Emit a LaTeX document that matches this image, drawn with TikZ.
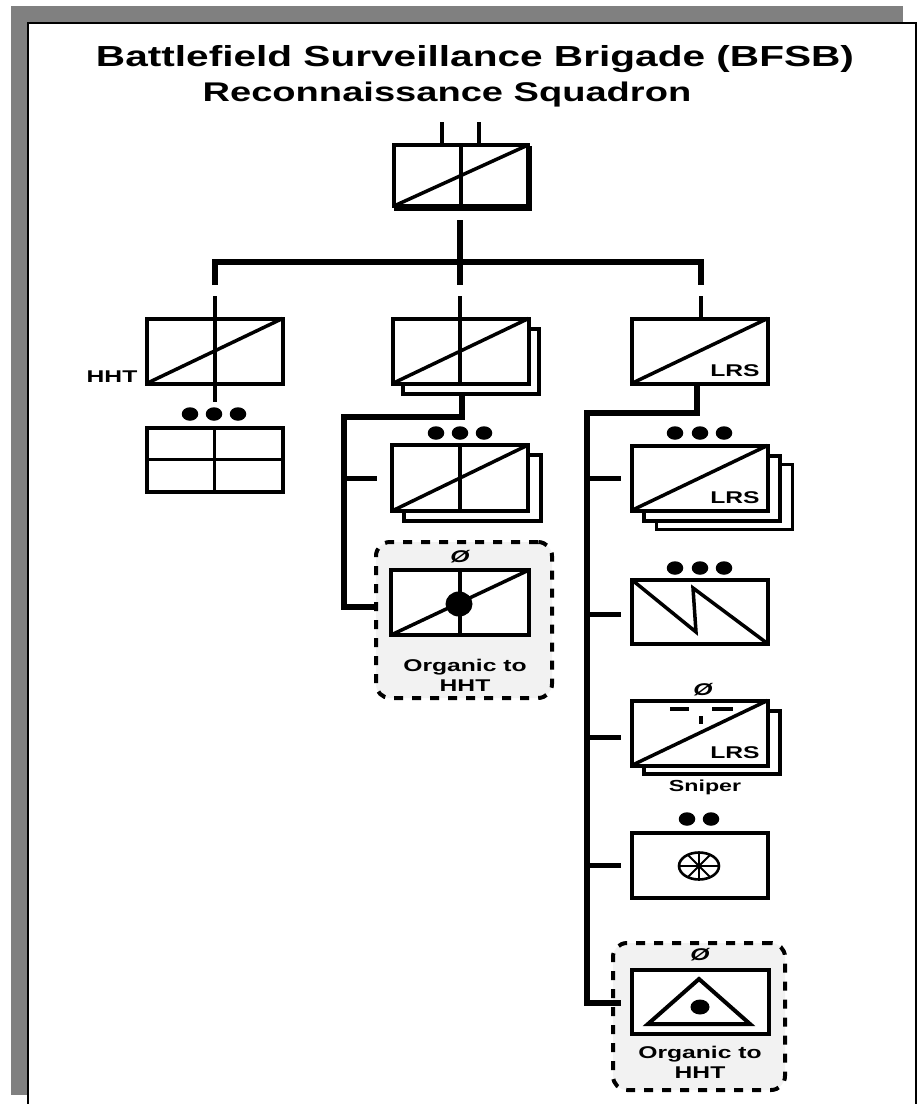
\documentclass[tikz,border=0pt]{standalone}
\usepackage{fontspec}
\setmainfont{Liberation Sans}
\usetikzlibrary{shapes.geometric}

\begin{document}
\begin{tikzpicture}[
      x=1pt, y=-1pt,
      every node/.style={font=\bfseries, inner sep=0pt, outer sep=0pt},
      unitbox/.style={
        rectangle, draw, line width=4pt, fill=white,
        minimum width=136pt, minimum height=65pt
      },
      organicbox/.style={
        rectangle, draw, line width=4pt, dash pattern=on 9pt off 9pt,
        rounded corners=14pt, fill=black!5, minimum width=176pt
      },
      echelon/.style={
        ellipse, fill=black, minimum width=16.5pt, minimum height=13.5pt
      },
      titletext/.style={font=\fontsize{29}{33}\selectfont\bfseries, xscale=1.40, transform shape},
      subtext/.style={font=\fontsize{27}{32}\selectfont\bfseries, xscale=1.41, transform shape},
      labeltext/.style={font=\fontsize{17}{20}\selectfont\bfseries, align=center, xscale=1.45, transform shape},
      smalltext/.style={font=\fontsize{16}{18}\selectfont\bfseries, align=center, xscale=1.45, transform shape},
      zerotext/.style={font=\fontsize{17}{17}\selectfont\bfseries\itshape, xscale=1.45, transform shape},
      conn/.style={line width=5.5pt},
      symbolline/.style={line width=3.5pt}
    ]

    \useasboundingbox (0,0) rectangle (919,1104);

    % ===== Sheet and its grey edge =====
    \fill[black!50] (11,6) rectangle (903,1095);
    \draw[line width=2pt, fill=white] (28,23) rectangle (916,1120);

    % ===== Titles =====
    \node[titletext] (title) at (475,59) {Battlefield Surveillance Brigade (BFSB)};
    \node[subtext] (subtitle) at (447,95) {Reconnaissance Squadron};

    % ===== Squadron =====
    \node[unitbox, minimum width=134pt, minimum height=61pt] (sqback) at (463,178.5) {};
    \node[unitbox, minimum width=134pt, minimum height=61pt] (sq) at (461,175.5) {};
    \coordinate (sqa) at (442,122);
    \coordinate (sqb) at (479,122);
    \coordinate (sqc) at (460,220);
    \coordinate (busc) at (460,262);
    \coordinate (busl) at (215,262);
    \coordinate (busr) at (701,262);
    \coordinate (dropc) at (460,285);
    \coordinate (dropl) at (215,285);
    \coordinate (dropr) at (701,285);
    \coordinate (stubl) at (215,296);
    \coordinate (stubc) at (460,296);
    \coordinate (stubr) at (701,296);

    % ===== Second row =====
    \node[unitbox] (hht) at (214.5,351) {};
    \node[unitbox] (hqback) at (471,361) {};
    \node[unitbox] (trp) at (460.5,351) {};
    \node[unitbox] (lrs) at (699.5,351) {};
    \node[labeltext] (hhtlabel) at (112,377) {HHT};
    \node[labeltext] (lrslabel) at (735,371) {LRS};

    % ===== Below HHT =====
    \node[unitbox, minimum height=64pt] (sec) at (214.5,459.5) {};
    \node[echelon] (hhta) at (190,414) {};
    \node[echelon] (hhtb) at (214,414) {};
    \node[echelon] (hhtc) at (238,414) {};
    \coordinate (hhtdrop) at (215,402);

    % ===== Below the troop =====
    \node[unitbox, minimum width=137pt, minimum height=66pt] (plback) at (472.5,487.5) {};
    \node[unitbox, minimum width=136pt, minimum height=66pt] (pl) at (460,478) {};
    \node[echelon] (pla) at (436,433) {};
    \node[echelon] (plb) at (460,433) {};
    \node[echelon] (plc) at (484,433) {};
    \node[organicbox, minimum height=156pt] (orgone) at (464,620) {};
    \node[unitbox, minimum width=138pt, minimum height=65pt] (med) at (460,602.5) {};
    \node[labeltext] (orgonetext) at (465,675) {Organic to\\HHT};
    \node[zerotext] (orgonezero) at (460,557) {Ø};

    % ===== Below LRS =====
    \node[unitbox, line width=3pt] (lrsbackb) at (724,496.5) {};
    \node[unitbox] (lrsbacka) at (712,488) {};
    \node[unitbox] (lrstm) at (699.5,478) {};
    \node[labeltext] (lrstmlabel) at (735,498) {LRS};
    \node[echelon] (lrsa) at (675,433) {};
    \node[echelon] (lrsb) at (700,433) {};
    \node[echelon] (lrsc) at (724,433) {};

    \node[unitbox, minimum height=64pt] (sig) at (699.5,611.5) {};
    \node[echelon] (siga) at (675,568) {};
    \node[echelon] (sigb) at (700,568) {};
    \node[echelon] (sigc) at (724,568) {};
    \coordinate (ziga) at (696,632);
    \coordinate (zigb) at (693,588);

    \node[unitbox, minimum height=63pt] (snback) at (712,742.5) {};
    \node[unitbox] (sn) at (699.5,733) {};
    \node[labeltext] (snlabel) at (735,753) {LRS};
    \node[smalltext] (sntext) at (705,787) {Sniper};
    \node[zerotext] (snzero) at (703,690) {Ø};
    \coordinate (dasha) at (670,709);
    \coordinate (dashb) at (689,709);
    \coordinate (dashc) at (712,709);
    \coordinate (dashd) at (733,709);
    \coordinate (ticka) at (701,716);
    \coordinate (tickb) at (701,724);

    \node[unitbox] (mnt) at (699.5,865) {};
    \node[echelon] (mnta) at (687,819) {};
    \node[echelon] (mntb) at (711,819) {};
    \node[ellipse, draw, line width=2.6pt, minimum width=40pt, minimum height=27pt] (wheel) at (699,866) {};

    \node[organicbox, minimum width=172pt, minimum height=147pt] (orgtwo) at (699,1016.5) {};
    \node[unitbox, minimum width=137pt, minimum height=64pt] (obs) at (700,1001.5) {};
    \coordinate (tria) at (699,979);
    \coordinate (trib) at (750,1024);
    \coordinate (tric) at (648,1024);
    \node[ellipse, fill=black, minimum width=19pt, minimum height=15pt] (obsdot) at (700,1007) {};
    \node[labeltext] (orgtwotext) at (700,1062) {Organic to\\HHT};
    \node[zerotext] (orgtwozero) at (700,955) {Ø};

    % ===== Symbols inside the boxes =====
    \draw[symbolline] (sq.south west) -- (sq.north east);
    \draw[symbolline] (sq.north) -- (sq.south);
    \draw[symbolline] (hht.south west) -- (hht.north east);
    \draw[symbolline] (trp.south west) -- (trp.north east);
    \draw[symbolline] (lrs.south west) -- (lrs.north east);
    \draw[symbolline] (sec.north) -- (sec.south);
    \draw[line width=2.8pt] (sec.west) -- (sec.east);
    \draw[symbolline] (pl.south west) -- (pl.north east);
    \draw[symbolline] (pl.north) -- (pl.south);
    \draw[symbolline] (med.south west) -- (med.north east);
    \draw[symbolline] (med.north) -- (med.south);
    \node[ellipse, fill=black, minimum width=27pt, minimum height=25pt] (meddot) at (459,604) {};
    \draw[symbolline] (lrstm.south west) -- (lrstm.north east);
    \draw[symbolline] (sig.north west) -- (ziga) -- (zigb) -- (sig.south east);
    \draw[symbolline] (sn.south west) -- (sn.north east);
    \draw[symbolline] (dasha) -- (dashb);
    \draw[symbolline] (dashc) -- (dashd);
    \draw[symbolline] (ticka) -- (tickb);
    \draw[line width=2pt] (wheel.north) -- (wheel.south);
    \draw[line width=2pt] (wheel.west) -- (wheel.east);
    \draw[line width=2pt] (wheel.45) -- (wheel.225);
    \draw[line width=2pt] (wheel.135) -- (wheel.315);
    \draw[line width=4pt] (tria) -- (trib) -- (tric) -- cycle;

    % ===== Connectors =====
    \draw[symbolline] (sqa) -- (sqa |- sq.north);
    \draw[symbolline] (sqb) -- (sqb |- sq.north);
    \draw[conn] (sqc) -- (busc);
    \draw[conn] (dropl) -- (busl) -- (busr) -- (dropr);
    \draw[conn] (busc) -- (dropc);
    \draw[conn, line width=4pt] (stubl) -- (hht.north -| stubl);
    \draw[symbolline] (hht.north -| stubl) -- (hht.south -| stubl);
    \draw[conn, line width=4pt] (hht.south -| stubl) -- (hhtdrop);
    \draw[conn, line width=4pt] (stubc) -- (trp.north -| stubc);
    \draw[symbolline] (trp.north -| stubc) -- (trp.south -| stubc);
    \draw[conn, line width=4pt] (stubr) -- (lrs.north -| stubr);

    \coordinate (trpdrop) at (462,393);
    \coordinate (trpturn) at (344,417);
    \coordinate (trpend) at (344,607);
    \draw[conn] (trpdrop) -- (trpdrop |- trpturn) -- (trpturn) -- (trpend) -- (trpend -| orgone.west);
    \draw[conn, line width=5pt] (trpturn |- pl.west) -- ++(33,0) coordinate (plstub);

    \coordinate (lrsdrop) at (697,385);
    \coordinate (lrsturn) at (587,413);
    \coordinate (lrsend) at (587,1003);
    \draw[conn] (lrsdrop) -- (lrsdrop |- lrsturn) -- (lrsturn) -- (lrsend) -- ++(34,0) coordinate (obsstub);
    \draw[conn, line width=5pt] (lrsturn |- lrstm.west) -- ++(34,0) coordinate (lrstmstub);
    \coordinate (sigjoin) at (587,614);
    \draw[conn, line width=5pt] (sigjoin) -- ++(34,0) coordinate (sigstub);
    \coordinate (snjoin) at (587,737);
    \draw[conn, line width=5pt] (snjoin) -- ++(34,0) coordinate (snstub);
    \draw[conn, line width=5pt] (lrsturn |- mnt.west) -- ++(34,0) coordinate (mntstub);
  \end{tikzpicture}
\end{document}
